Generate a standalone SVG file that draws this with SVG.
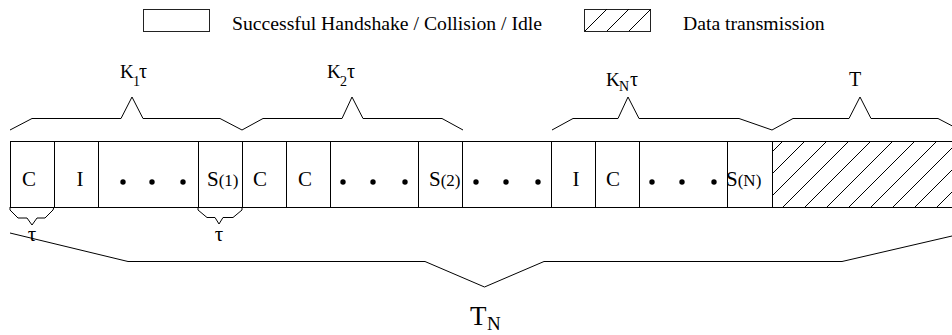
<svg xmlns="http://www.w3.org/2000/svg" width="952" height="335" viewBox="0 0 952 335">
<style>
.ln{fill:none;stroke:#000;stroke-width:1}
.cell{fill:#fff;stroke:#222;stroke-width:1}
.tx{font-family:"Liberation Serif","Times New Roman",serif;fill:#000}
.lab{font-size:21px}
.leg{font-size:19.7px}
.sub{font-size:17px}
.dot{fill:#000}
</style>
<defs>
<clipPath id="hc"><rect x="772" y="141" width="180" height="66"/></clipPath>
<clipPath id="lc"><rect x="584" y="9" width="67" height="22"/></clipPath>
</defs>
<rect width="952" height="335" fill="#fff"/>

<g id="legend">
<rect class="cell" x="143.5" y="9.5" width="66" height="22"/>
<text class="tx leg" x="232" y="30">Successful Handshake / Collision / Idle</text>
<rect class="cell" x="584.5" y="9.5" width="66" height="22"/>
<g clip-path="url(#lc)" class="ln">
<path d="M584,32 L607,9 M606,32 L629,9 M628,32 L651,9"/>
</g>
<text class="tx leg" x="683" y="30">Data transmission</text>
</g>

<g id="row">
<line class="ln" x1="10" y1="141.5" x2="952" y2="141.5"/>
<line class="ln" x1="10" y1="207.5" x2="952" y2="207.5"/>
</g>

<g id="c1"><line class="ln" x1="10.5" y1="141" x2="10.5" y2="207"/><text class="tx lab" x="29" y="186" text-anchor="middle">C</text></g>
<g id="i1"><line class="ln" x1="54.5" y1="141" x2="54.5" y2="207"/><text class="tx lab" x="80" y="186" text-anchor="middle">I</text></g>
<g id="d1"><line class="ln" x1="98.5" y1="141" x2="98.5" y2="207"/><circle class="dot" cx="123" cy="182" r="2.7"/><circle class="dot" cx="152" cy="182" r="2.7"/><circle class="dot" cx="183" cy="182" r="2.7"/></g>
<g id="s1"><line class="ln" x1="198.5" y1="141" x2="198.5" y2="207"/><text class="tx lab" x="207" y="186">S<tspan class="sub">(1)</tspan></text></g>
<g id="c2"><line class="ln" x1="242.5" y1="141" x2="242.5" y2="207"/><text class="tx lab" x="260" y="186" text-anchor="middle">C</text></g>
<g id="c3"><line class="ln" x1="286.5" y1="141" x2="286.5" y2="207"/><text class="tx lab" x="305" y="186" text-anchor="middle">C</text></g>
<g id="d2"><line class="ln" x1="330.5" y1="141" x2="330.5" y2="207"/><circle class="dot" cx="343" cy="182" r="2.7"/><circle class="dot" cx="373" cy="182" r="2.7"/><circle class="dot" cx="405" cy="182" r="2.7"/></g>
<g id="s2"><line class="ln" x1="418.5" y1="141" x2="418.5" y2="207"/><text class="tx lab" x="429" y="186">S<tspan class="sub">(2)</tspan></text></g>
<g id="d3"><line class="ln" x1="462.5" y1="141" x2="462.5" y2="207"/><circle class="dot" cx="476" cy="182" r="2.7"/><circle class="dot" cx="506" cy="182" r="2.7"/><circle class="dot" cx="538" cy="182" r="2.7"/></g>
<g id="i2"><line class="ln" x1="551.5" y1="141" x2="551.5" y2="207"/><text class="tx lab" x="576" y="186" text-anchor="middle">I</text></g>
<g id="c4"><line class="ln" x1="595.5" y1="141" x2="595.5" y2="207"/><text class="tx lab" x="613" y="186" text-anchor="middle">C</text></g>
<g id="d4"><line class="ln" x1="639.5" y1="141" x2="639.5" y2="207"/><circle class="dot" cx="652" cy="182" r="2.7"/><circle class="dot" cx="682" cy="182" r="2.7"/><circle class="dot" cx="714" cy="182" r="2.7"/></g>
<g id="sn"><line class="ln" x1="727.5" y1="141" x2="727.5" y2="207"/><text class="tx lab" x="726" y="186">S<tspan class="sub">(N)</tspan></text></g>
<g id="data"><line class="ln" x1="772.5" y1="141" x2="772.5" y2="207"/>
<g clip-path="url(#hc)" class="ln">
<path d="M717,207 l66,-66 M739,207 l66,-66 M761,207 l66,-66 M783,207 l66,-66 M805,207 l66,-66 M827,207 l66,-66 M849,207 l66,-66 M871,207 l66,-66 M893,207 l66,-66 M915,207 l66,-66 M937,207 l66,-66"/>
</g></g>

<g id="connectors" class="ln">
<path d="M10,130 L32,118.5 L121,118.5 L132,97 L143,118.5 L220,118.5 L242,130"/>
<path d="M242,130 L263,118.5 L342,118.5 L352,97 L363,118.5 L442,118.5 L463,130"/>
<path d="M552,130 L573,118.5 L618,118.5 L628,97 L639,118.5 L739,118.5 L772,130"/>
<path d="M772,130 L793,118.5 L849,118.5 L860,97 L871,118.5 L938,118.5 L960,130"/>
<path d="M10,207 L10,210 L18,218 L27,218 L32,225 L37,218 L45,218 L53,210 L54,207"/>
<path d="M198,207 L198,210 L207,217.5 L215,217.5 L219,224 L223,217.5 L233,217.5 L242,210 L242,207"/>
<path d="M10,233 L128,261.5 L425,261.5 L484.5,287 L544,261.5 L842,261.5 L952,236"/>
</g>

<g id="labels">
<text class="tx" font-size="19" x="120" y="78">K</text><text class="tx" font-size="14" x="133" y="86">1</text><text class="tx" font-size="20" x="139" y="78">τ</text>
<text class="tx" font-size="19" x="327" y="78">K</text><text class="tx" font-size="14" x="340" y="86">2</text><text class="tx" font-size="20" x="347" y="78">τ</text>
<text class="tx" font-size="19" x="606" y="86">K</text><text class="tx" font-size="14" x="619" y="91">N</text><text class="tx" font-size="20" x="630" y="86">τ</text>
<text class="tx" font-size="20" x="855" y="86" text-anchor="middle">T</text>
<text class="tx lab" x="32" y="241" text-anchor="middle">τ</text>
<text class="tx lab" x="219" y="241" text-anchor="middle">τ</text>
<text class="tx" font-size="27" x="470" y="325">T</text><text class="tx" font-size="19" x="487" y="330">N</text>
</g>
</svg>
